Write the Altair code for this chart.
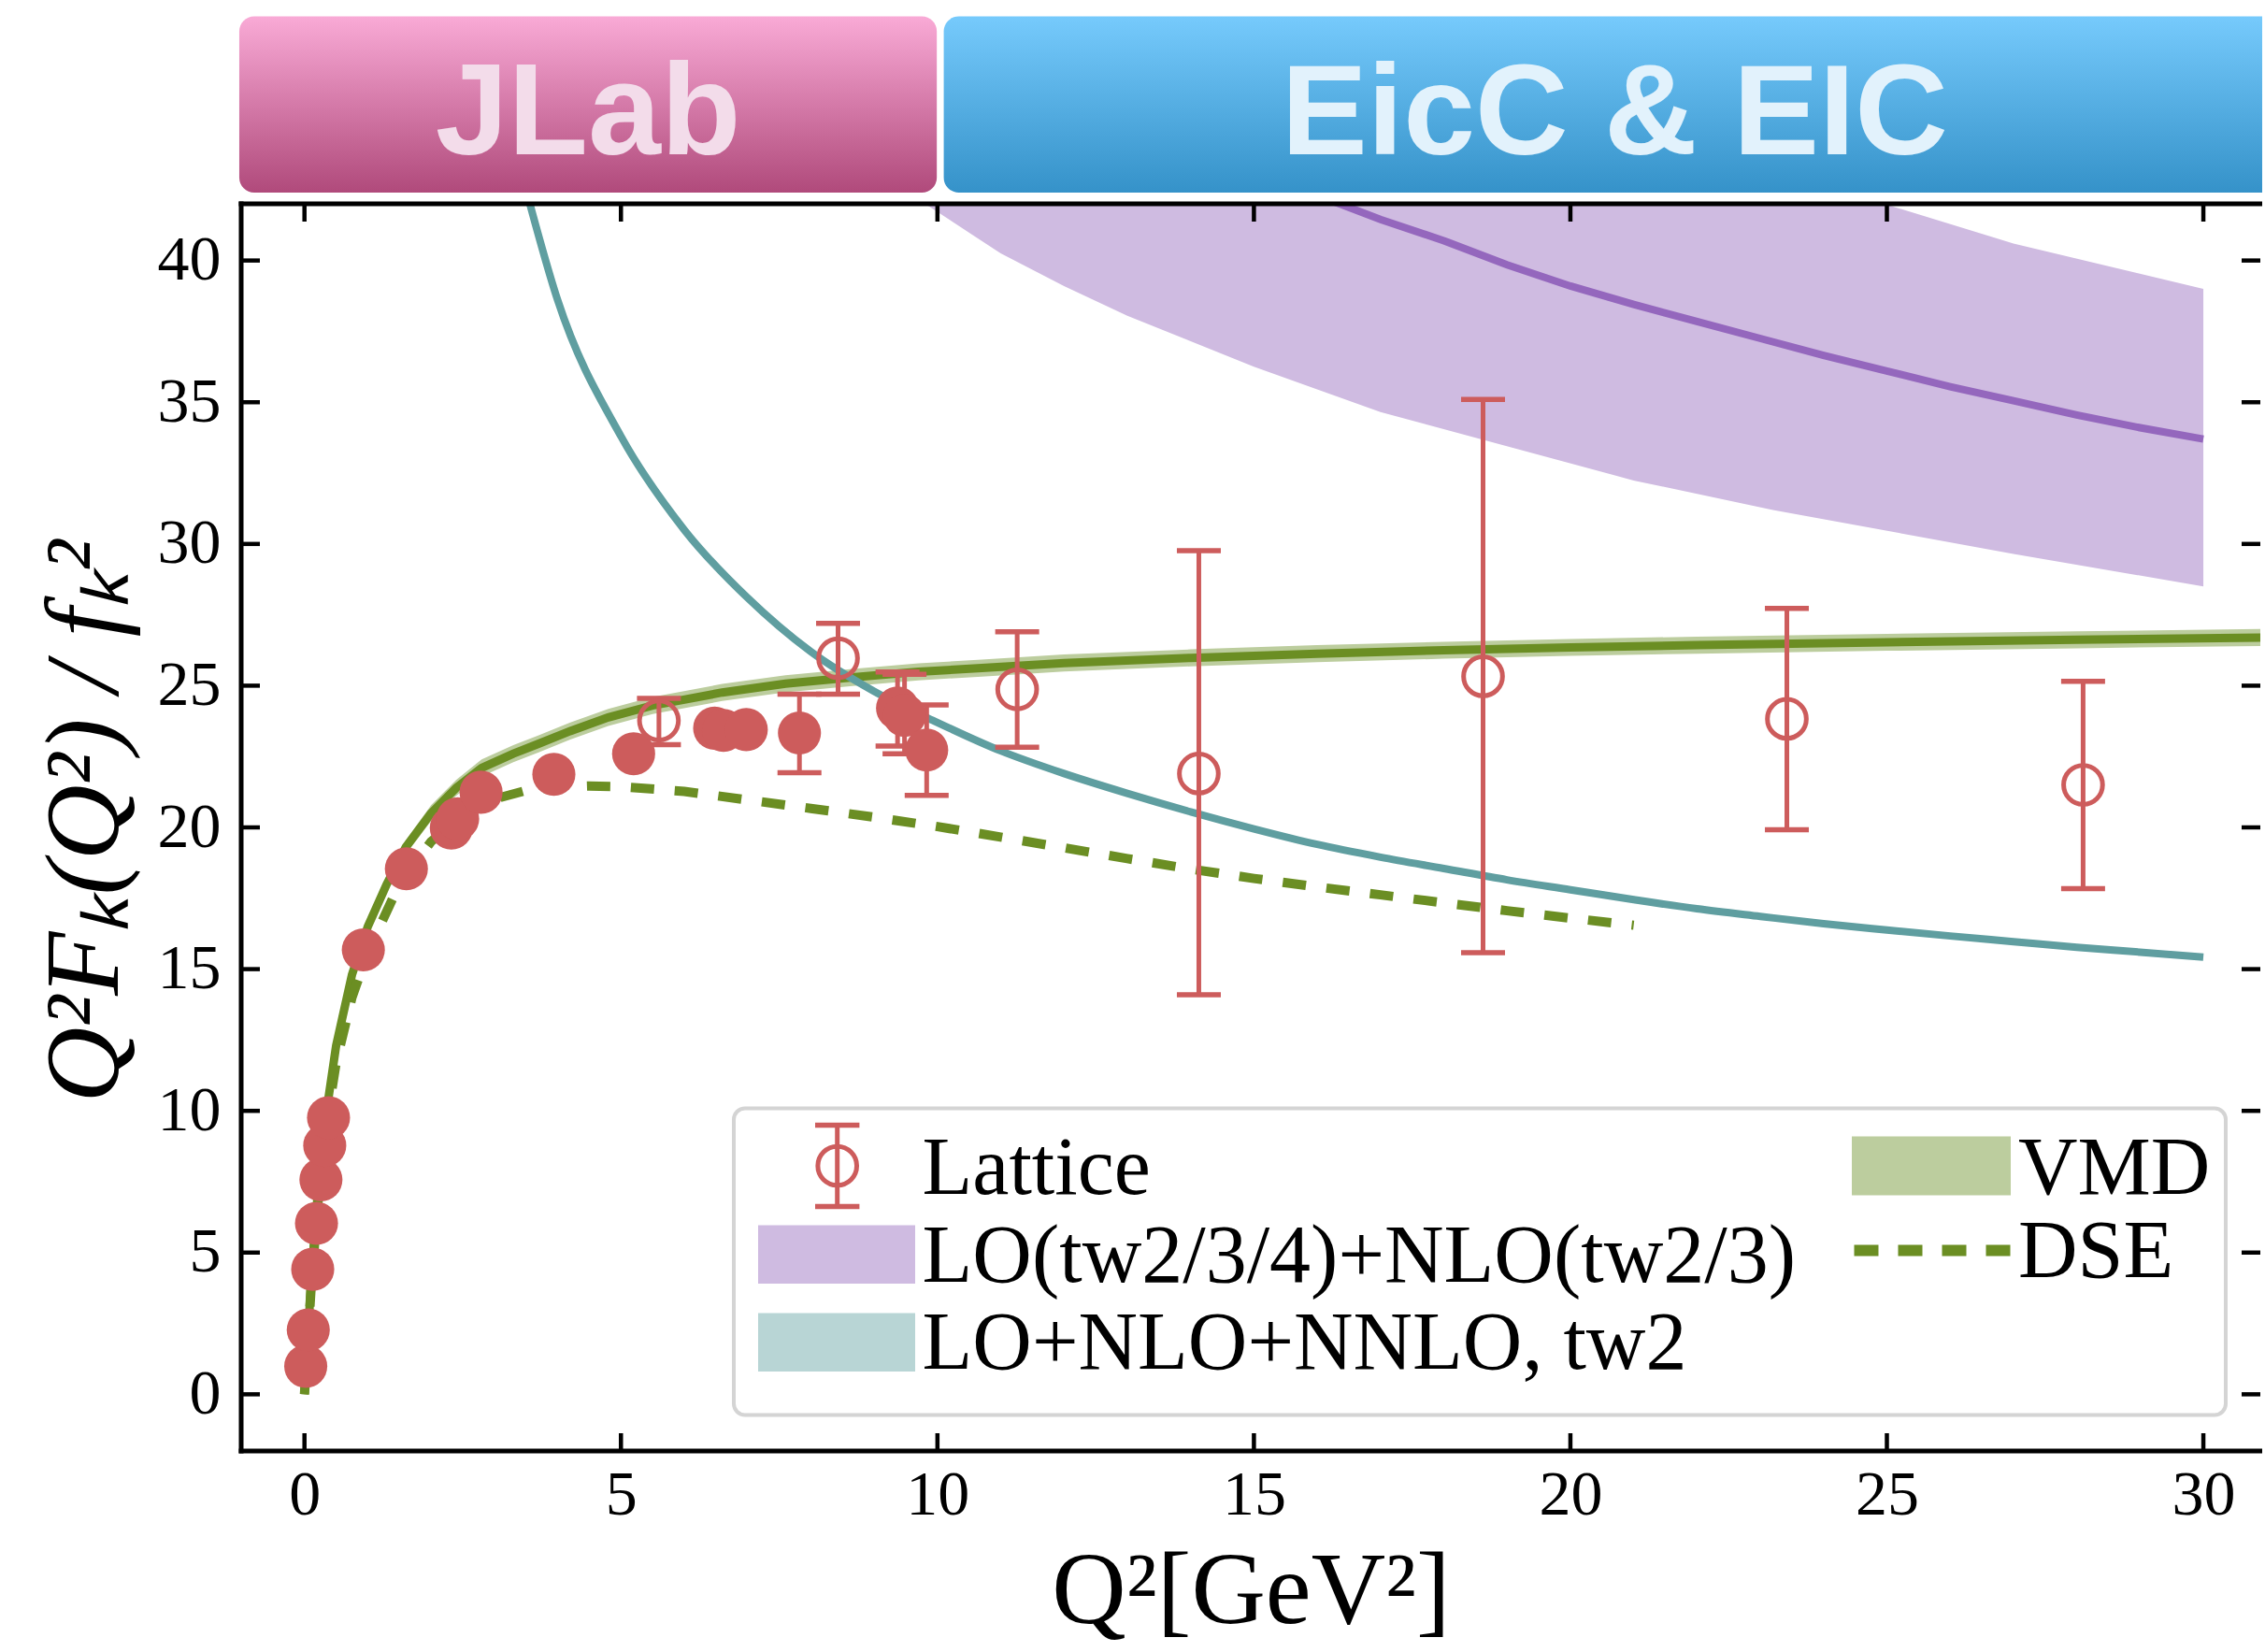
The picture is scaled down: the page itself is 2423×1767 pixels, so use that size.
import altair as alt
import pandas as pd

# ---------------------------------------------------------------------------
# Kaon form factor  Q^2 F_K(Q^2) / f_K^2  versus  Q^2 [GeV^2]
# ---------------------------------------------------------------------------

# VMD: central curve and its narrow band
vmd_x = [0, 0.1, 0.2, 0.35, 0.5, 0.75, 1.0, 1.3, 1.6, 2.0, 2.4, 2.8, 3.3, 3.7, 4.2, 4.8,
         5.5, 6.6, 7.6, 8.7, 9.7, 10.7, 12, 14, 16, 18, 20, 22, 25, 28, 31]
vmd_y = [0, 3.8, 6.8, 10.0, 12.3, 14.8, 16.5, 18.0, 19.3, 20.5, 21.4, 22.1, 22.6, 22.95, 23.4, 23.88,
         24.3, 24.76, 25.07, 25.3, 25.49, 25.62, 25.8, 25.98, 26.13, 26.25, 26.35, 26.43, 26.53, 26.62, 26.7]
vmd_lo = [0, 3.7, 6.6, 9.8, 12.05, 14.55, 16.25, 17.75, 19.05, 20.22, 21.12, 21.8, 22.3, 22.65, 23.1, 23.58,
          24.0, 24.46, 24.77, 25.0, 25.19, 25.32, 25.5, 25.68, 25.83, 25.95, 26.05, 26.13, 26.23, 26.32, 26.4]
vmd_hi = [0, 3.9, 7.0, 10.2, 12.55, 15.05, 16.75, 18.25, 19.55, 20.78, 21.68, 22.4, 22.9, 23.25, 23.7, 24.18,
          24.6, 25.06, 25.37, 25.6, 25.79, 25.92, 26.1, 26.28, 26.43, 26.55, 26.65, 26.73, 26.83, 26.92, 27.0]

# DSE curve (dashed)
dse_x = [0, 0.1, 0.2, 0.35, 0.5, 0.75, 1.0, 1.5, 2.0, 2.5, 3.0, 3.5, 4.0, 4.5, 5, 6, 7, 8, 9, 10,
         11, 12, 13, 14, 15, 16, 17, 18, 19, 20, 21]
dse_y = [0, 3.6, 6.5, 9.6, 11.7, 14.0, 15.6, 18.0, 19.5, 20.4, 21.0, 21.3, 21.42, 21.46, 21.44, 21.27,
         20.97, 20.67, 20.36, 20.03, 19.66, 19.28, 18.9, 18.53, 18.2, 17.9, 17.62, 17.34, 17.06, 16.8, 16.55]

# LO+NLO+NNLO, twist-2
nnlo_x = [3.5, 4, 5, 6, 7, 8, 9, 10, 11, 12, 13, 14, 15, 16, 17, 18, 19, 20, 21, 22, 23, 24, 25,
          26, 27, 28, 29, 30]
nnlo_y = [42.5, 38.6, 33.8, 30.5, 28.1, 26.2, 24.8, 23.7, 22.7, 21.9, 21.2, 20.55, 19.95, 19.4, 18.95,
          18.55, 18.15, 17.8, 17.45, 17.13, 16.86, 16.6, 16.38, 16.17, 15.97, 15.77, 15.6, 15.42]

# LO(tw2/3/4)+NLO(tw2/3): band and central curve
tw4_x = [9.6, 11, 12, 13, 15, 17, 21, 23.2, 27, 30]
tw4_lo = [42.3, 40.25, 39.1, 38.05, 36.25, 34.65, 32.24, 31.2, 29.65, 28.5]
tw4_hi = [62.0, 57.0, 54.5, 52.5, 49.5, 47.5, 44.5, 43.2, 40.6, 39.0]
tw4_cx = [16, 17, 18, 19, 20, 21, 22, 23, 24, 25, 26, 27, 28, 29, 30]
tw4_cy = [42.3, 41.45, 40.7, 39.85, 39.1, 38.45, 37.85, 37.25, 36.65, 36.1, 35.55, 35.05, 34.55, 34.1, 33.7]

# Experimental points (filled circles)
exp_x = [0.02, 0.06, 0.13, 0.19, 0.26, 0.32, 0.38, 0.93, 1.61, 2.32, 2.42, 2.79, 3.94, 5.2,
         6.48, 6.62, 6.98, 7.82, 9.37, 9.48, 9.83]
exp_y = [0.99, 2.27, 4.41, 6.03, 7.57, 8.78, 9.76, 15.68, 18.54, 19.98, 20.3, 21.24, 21.87, 22.6,
         23.5, 23.42, 23.45, 23.33, 24.21, 23.95, 22.73]
exp_err_x = [7.82, 9.37, 9.48, 9.83]
exp_err_lo = [21.93, 22.87, 22.6, 21.13]
exp_err_hi = [24.7, 25.48, 25.4, 24.32]

# Lattice points (open circles with error bars)
lat_x = [5.6, 8.43, 11.26, 14.13, 18.62, 23.42, 28.1]
lat_y = [23.77, 25.97, 24.87, 21.9, 25.33, 23.83, 21.5]
lat_lo = [22.92, 24.7, 22.83, 14.1, 15.58, 19.92, 17.84]
lat_hi = [24.55, 27.2, 26.9, 29.76, 35.1, 27.73, 25.15]

x_ticks = [0, 5, 10, 15, 20, 25, 30]
y_ticks = [0, 5, 10, 15, 20, 25, 30, 35, 40]

legend_labels = ["Lattice", "LO(tw2/3/4)+NLO(tw2/3)", "LO+NLO+NNLO, tw2", "VMD", "DSE"]

banner_labels = ["JLab", "EicC & EIC"]
banner_x0 = [-1.03, 10.1]
banner_x1 = [9.99, 31.3]

# ---------------------------------------------------------------------------
W, H = 2160, 1334
SERIF = "Liberation Serif"
SANS = "Liberation Sans"
RED = "#cd5c5c"
OLIVE = "#6b8e23"
OLIVE_BAND = "#bccd9e"
TEAL = "#5f9ea0"
TEAL_BAND = "#b8d5d5"
PURPLE = "#9467bd"
PURPLE_BAND = "#cfbbe1"

xs = alt.Scale(domain=[-1, 30.9], nice=False, zero=False)
ys = alt.Scale(domain=[-2, 42], nice=False, zero=False)

x_axis = alt.Axis(values=x_ticks, grid=False, domain=False, ticks=False, tickSize=0,
                  labelFont=SERIF, labelFontSize=68, labelPadding=13, labelColor="black",
                  labelFlush=False, labelOverlap=False,
                  title="Q²[GeV²]", titleFont=SERIF, titleFontSize=110, titleFontWeight="normal",
                  titleColor="black", titleY=183, titleBaseline="alphabetic")
y_axis = alt.Axis(values=y_ticks, grid=False, domain=False, ticks=False, tickSize=0,
                  labelFont=SERIF, labelFontSize=68, labelPadding=22, labelColor="black",
                  labelFlush=False, labelOverlap=False,
                  title="Q²Fₖ(Q²) / fₖ²", titleFont=SERIF, titleFontSize=112,
                  titleFontWeight="normal", titleFontStyle="italic", titleColor="black",
                  titleAngle=270, titleX=-133, titleY=660, titleBaseline="alphabetic",
                  titleAlign="center")


def X(field="x"):
    return alt.X(f"{field}:Q", scale=xs, axis=x_axis)


def Y(field="y"):
    return alt.Y(f"{field}:Q", scale=ys, axis=y_axis)


def one(label=""):
    return pd.DataFrame({"label": [label]})


vmd_df = pd.DataFrame({"x": vmd_x, "y": vmd_y, "lo": vmd_lo, "hi": vmd_hi})
dse_df = pd.DataFrame({"x": dse_x, "y": dse_y})
nnlo_df = pd.DataFrame({"x": nnlo_x, "y": nnlo_y})
tw4_band_df = pd.DataFrame({"x": tw4_x, "lo": tw4_lo, "hi": tw4_hi})
tw4_line_df = pd.DataFrame({"x": tw4_cx, "y": tw4_cy})
exp_df = pd.DataFrame({"x": exp_x, "y": exp_y})
exp_err_df = pd.DataFrame({"x": exp_err_x, "lo": exp_err_lo, "hi": exp_err_hi})
lat_df = pd.DataFrame({"x": lat_x, "y": lat_y, "lo": lat_lo, "hi": lat_hi})
xt_df = pd.DataFrame({"x": x_ticks})
yt_df = pd.DataFrame({"y": y_ticks})
banner_df = pd.DataFrame({"label": banner_labels, "x": banner_x0, "x2": banner_x1})
banner_df["xc"] = (banner_df["x"] + banner_df["x2"]) / 2

# ---- theory curves ----
tw4_band = alt.Chart(tw4_band_df).mark_area(color=PURPLE_BAND, clip=True, opacity=1).encode(
    x=X(), y=Y("lo"), y2=alt.Y2("hi"))
tw4_line = alt.Chart(tw4_line_df).mark_line(color=PURPLE, strokeWidth=8, clip=True).encode(
    x=X(), y=Y())
vmd_band = alt.Chart(vmd_df).mark_area(color=OLIVE_BAND, clip=True, opacity=1).encode(
    x=X(), y=Y("lo"), y2=alt.Y2("hi"))
vmd_line = alt.Chart(vmd_df).mark_line(color=OLIVE, strokeWidth=9, clip=True).encode(
    x=X(), y=Y())
nnlo_line = alt.Chart(nnlo_df).mark_line(color=TEAL, strokeWidth=8, clip=True,
                                         interpolate="monotone").encode(x=X(), y=Y())
dse_line = alt.Chart(dse_df).mark_line(color=OLIVE, strokeWidth=10, strokeDash=[25, 22],
                                       strokeCap="butt", clip=True).encode(x=X(), y=Y())


# ---- data points ----
def error_bars(df):
    bar = alt.Chart(df).mark_rule(color=RED, strokeWidth=5).encode(
        x=X(), y=Y("lo"), y2=alt.Y2("hi"))
    caps = alt.Chart(df).transform_fold(["lo", "hi"], as_=["end", "cap"]).mark_rule(
        color=RED, strokeWidth=5.5, xOffset=-23.5, x2Offset=23.5).encode(
        x=X(), x2=alt.X2("x"), y=Y("cap"))
    return [bar, caps]


exp_pts = alt.Chart(exp_df).mark_point(shape="circle", filled=True, size=2124, color=RED,
                                       opacity=1, strokeWidth=0).encode(x=X(), y=Y())
lat_pts = alt.Chart(lat_df).mark_point(shape="circle", filled=False, size=1735, color=RED,
                                       opacity=1, strokeWidth=5).encode(x=X(), y=Y())

# ---- frame: spines and inward ticks ----
tick_style = dict(color="black", strokeWidth=4.5)
ticks = [
    alt.Chart(yt_df).mark_rule(**tick_style).encode(x=alt.value(0), x2=alt.value(20), y=Y()),
    alt.Chart(yt_df).mark_rule(**tick_style).encode(x=alt.value(W - 20), x2=alt.value(W), y=Y()),
    alt.Chart(xt_df).mark_rule(**tick_style).encode(x=X(), y=alt.value(0), y2=alt.value(19)),
    alt.Chart(xt_df).mark_rule(**tick_style).encode(x=X(), y=alt.value(H - 19), y2=alt.value(H)),
]
spine_style = dict(color="black", strokeWidth=5, strokeCap="square")
spines = [
    alt.Chart(one()).mark_rule(**spine_style).encode(x=alt.value(0), y=alt.value(0), y2=alt.value(H)),
    alt.Chart(one()).mark_rule(**spine_style).encode(x=alt.value(0), x2=alt.value(W + 5), y=alt.value(0)),
    alt.Chart(one()).mark_rule(**spine_style).encode(x=alt.value(0), x2=alt.value(W + 5), y=alt.value(H)),
]

# ---- legend ----
LEG_FONT = dict(font=SERIF, fontSize=88, align="left", baseline="alphabetic", color="black")
legend = [
    alt.Chart(one()).mark_rect(fill="white", stroke="#d4d4d4", strokeWidth=4, cornerRadius=12).encode(
        x=alt.value(527), x2=alt.value(2123), y=alt.value(967.5), y2=alt.value(1295.5)),
    # Lattice symbol
    alt.Chart(one()).mark_rule(color=RED, strokeWidth=5).encode(
        x=alt.value(637.7), y=alt.value(985.5), y2=alt.value(1072.5)),
    alt.Chart(one()).mark_rule(color=RED, strokeWidth=5.5).encode(
        x=alt.value(614), x2=alt.value(661.4), y=alt.value(985.5)),
    alt.Chart(one()).mark_rule(color=RED, strokeWidth=5.5).encode(
        x=alt.value(614), x2=alt.value(661.4), y=alt.value(1072.5)),
    alt.Chart(one()).mark_point(shape="circle", filled=False, size=1735, color=RED, opacity=1,
                                strokeWidth=5).encode(x=alt.value(637.7), y=alt.value(1029)),
    # patches
    alt.Chart(one()).mark_rect(fill=PURPLE_BAND).encode(
        x=alt.value(553), x2=alt.value(721), y=alt.value(1092.5), y2=alt.value(1155)),
    alt.Chart(one()).mark_rect(fill=TEAL_BAND).encode(
        x=alt.value(553), x2=alt.value(721), y=alt.value(1186.5), y2=alt.value(1249)),
    alt.Chart(one()).mark_rect(fill=OLIVE_BAND).encode(
        x=alt.value(1723), x2=alt.value(1893), y=alt.value(997.5), y2=alt.value(1060.5)),
    alt.Chart(one()).mark_rule(color=OLIVE, strokeWidth=12, strokeDash=[26, 21], strokeCap="butt").encode(
        x=alt.value(1725.5), x2=alt.value(1893), y=alt.value(1119.5)),
    # labels
    alt.Chart(one(legend_labels[0])).mark_text(**LEG_FONT).encode(
        x=alt.value(728.6), y=alt.value(1058.5), text="label:N"),
    alt.Chart(one(legend_labels[1])).mark_text(**LEG_FONT).encode(
        x=alt.value(728.6), y=alt.value(1152.5), text="label:N"),
    alt.Chart(one(legend_labels[2])).mark_text(**LEG_FONT).encode(
        x=alt.value(728.6), y=alt.value(1245.5), text="label:N"),
    alt.Chart(one(legend_labels[3])).mark_text(**LEG_FONT).encode(
        x=alt.value(1901), y=alt.value(1058.5), text="label:N"),
    alt.Chart(one(legend_labels[4])).mark_text(**LEG_FONT).encode(
        x=alt.value(1901), y=alt.value(1147.5), text="label:N"),
]

# ---- facility banner above the plot ----
jlab_fill = alt.LinearGradient(
    gradient="linear", x1=0, x2=0, y1=0, y2=1,
    stops=[alt.GradientStop(color="#f9aad6", offset=0), alt.GradientStop(color="#b04a7b", offset=1)])
eic_fill = alt.LinearGradient(
    gradient="linear", x1=0, x2=0, y1=0, y2=1,
    stops=[alt.GradientStop(color="#76cafc", offset=0), alt.GradientStop(color="#3592c9", offset=1)])

banner = [
    alt.Chart(banner_df).transform_filter(alt.datum.label == banner_labels[0]).mark_rect(
        fill=jlab_fill, cornerRadius=16).encode(
        x=X(), x2=alt.X2("x2"), y=alt.value(-200.5), y2=alt.value(-12)),
    alt.Chart(banner_df).transform_filter(alt.datum.label == banner_labels[1]).mark_rect(
        fill=eic_fill, cornerRadius=16).encode(
        x=X(), x2=alt.X2("x2"), y=alt.value(-200.5), y2=alt.value(-12)),
    alt.Chart(banner_df).transform_filter(alt.datum.label == banner_labels[0]).mark_text(
        font=SANS, fontWeight="bold", fontSize=140, color="#f3dcea", align="center",
        baseline="alphabetic").encode(x=X("xc"), y=alt.value(-53.5), text="label:N"),
    alt.Chart(banner_df).transform_filter(alt.datum.label == banner_labels[1]).mark_text(
        font=SANS, fontWeight="bold", fontSize=138, color="#e2f2fc", align="center",
        baseline="alphabetic").encode(x=X("xc"), y=alt.value(-53.5), text="label:N"),
]

layers = ([tw4_band, tw4_line, vmd_band, vmd_line, nnlo_line, dse_line]
          + error_bars(lat_df) + error_bars(exp_err_df)
          + [exp_pts, lat_pts] + ticks + spines + legend + banner)

chart = alt.layer(*layers).properties(
    width=W, height=H,
    autosize=alt.AutoSizeParams(type="none"),
    padding={"left": 258, "top": 218, "right": 2, "bottom": 207},
).configure(background="white").configure_view(stroke="transparent")

chart.save("out.html", embed_options={"renderer": "svg", "actions": False})
